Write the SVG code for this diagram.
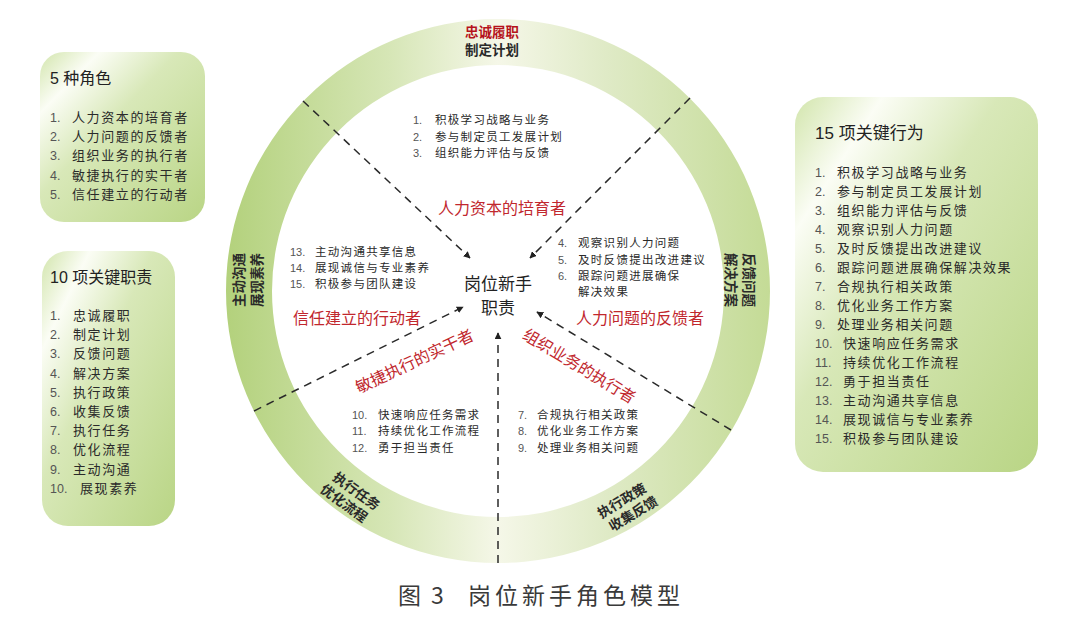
<svg xmlns="http://www.w3.org/2000/svg" width="1072" height="619" viewBox="0 0 1072 619">
<defs>
  <linearGradient id="ringG" gradientUnits="userSpaceOnUse" x1="226" y1="0" x2="770" y2="0">
    <stop offset="0" stop-color="#b3d17c"/>
    <stop offset="0.3" stop-color="#d6e6b6"/>
    <stop offset="0.5" stop-color="#f5f7e8"/>
    <stop offset="0.7" stop-color="#dfeac6"/>
    <stop offset="1" stop-color="#c4db96"/>
  </linearGradient>
  <linearGradient id="boxG" x1="0" y1="0" x2="1" y2="1">
    <stop offset="0" stop-color="#d2e5ac"/>
    <stop offset="0.18" stop-color="#fbfdf5"/>
    <stop offset="0.42" stop-color="#d8e8b8"/>
    <stop offset="1" stop-color="#b9d585"/>
  </linearGradient>
  <marker id="arr" viewBox="0 0 10 10" refX="9" refY="5" markerWidth="7" markerHeight="7" markerUnits="userSpaceOnUse" orient="auto">
    <path d="M0,0 L10,5 L0,10 z" fill="#222"/>
  </marker>
  <style>
    .cjk{font-family:"Noto Sans CJK SC",sans-serif;}
    .title{font-family:"Liberation Sans","Noto Sans CJK SC",sans-serif;font-size:16px;fill:#222;}
    .li{font-family:"Noto Sans CJK SC",sans-serif;font-size:13px;fill:#2a2a2a;letter-spacing:1.6px;}
    .num{font-family:"Liberation Sans",sans-serif;font-size:12.5px;fill:#555;}
    .cli{font-family:"Noto Sans CJK SC",sans-serif;font-size:11.5px;fill:#2a2a2a;letter-spacing:1.3px;}
    .cnum{font-family:"Liberation Sans",sans-serif;font-size:11px;fill:#555;}
    .red{font-family:"Noto Sans CJK SC",sans-serif;font-size:16px;fill:#c1272d;}
    .ring{font-family:"Noto Sans CJK SC",sans-serif;font-size:13.5px;font-weight:bold;fill:#2a2a2a;}
    .dash{stroke:#2a2a2a;stroke-width:1.5;stroke-dasharray:8 6;fill:none;}
    .box{fill:url(#boxG);}
  </style>
</defs>
<rect width="1072" height="619" fill="#ffffff"/>

<g id="ring">
  <path d="M226,291 a272,272 0 1,0 544,0 a272,272 0 1,0 -544,0 z M272,291 a226,226 0 1,1 452,0 a226,226 0 1,1 -452,0 z" fill="url(#ringG)" fill-rule="evenodd"/>
  <text class="ring" x="492" y="37" text-anchor="middle" style="fill:#b5121b">忠诚履职</text>
  <text class="ring" x="492" y="55" text-anchor="middle">制定计划</text>
  <g transform="translate(247,280) rotate(-90)">
    <text class="ring" x="0" y="-9" text-anchor="middle" dominant-baseline="central">主动沟通</text>
    <text class="ring" x="0" y="9" text-anchor="middle" dominant-baseline="central">展现素养</text>
  </g>
  <g transform="translate(741,280) rotate(90)">
    <text class="ring" x="0" y="-9" text-anchor="middle" dominant-baseline="central">反馈问题</text>
    <text class="ring" x="0" y="9" text-anchor="middle" dominant-baseline="central">解决方案</text>
  </g>
  <g transform="translate(350,495) rotate(36)">
    <text class="ring" x="3" y="-8" text-anchor="middle" dominant-baseline="central">执行任务</text>
    <text class="ring" x="0" y="9" text-anchor="middle" dominant-baseline="central">优化流程</text>
  </g>
  <g transform="translate(628,505) rotate(-31)">
    <text class="ring" x="-3" y="-8" text-anchor="middle" dominant-baseline="central">执行政策</text>
    <text class="ring" x="0" y="9" text-anchor="middle" dominant-baseline="central">收集反馈</text>
  </g>
</g>

<g id="connectors">
  <line class="dash" x1="303" y1="101" x2="470" y2="258" marker-end="url(#arr)"/>
  <line class="dash" x1="690" y1="98" x2="530" y2="258" marker-end="url(#arr)"/>
  <line class="dash" x1="254" y1="411" x2="463" y2="307" marker-end="url(#arr)"/>
  <line class="dash" x1="498" y1="563" x2="498" y2="333" marker-end="url(#arr)"/>
  <line class="dash" x1="731" y1="430" x2="537" y2="312" marker-end="url(#arr)"/>
</g>

<g id="center">
  <text class="cjk" x="498" y="290" text-anchor="middle" font-size="17" fill="#222">岗位新手</text>
  <text class="cjk" x="498" y="314" text-anchor="middle" font-size="17" fill="#222">职责</text>
</g>

<g id="seg-top">
  <text class="red" x="502" y="214" text-anchor="middle">人力资本的培育者</text>
  <text class="cnum" x="413" y="124">1.</text><text class="cli" x="435" y="124">积极学习战略与业务</text>
  <text class="cnum" x="413" y="141">2.</text><text class="cli" x="435" y="141">参与制定员工发展计划</text>
  <text class="cnum" x="413" y="157">3.</text><text class="cli" x="435" y="157">组织能力评估与反馈</text>
</g>

<g id="seg-right">
  <text class="red" x="640" y="324" text-anchor="middle">人力问题的反馈者</text>
  <text class="cnum" x="558" y="247">4.</text><text class="cli" x="578" y="247">观察识别人力问题</text>
  <text class="cnum" x="558" y="264">5.</text><text class="cli" x="578" y="264">及时反馈提出改进建议</text>
  <text class="cnum" x="558" y="280">6.</text><text class="cli" x="578" y="280">跟踪问题进展确保</text>
  <text class="cli" x="578" y="296">解决效果</text>
</g>

<g id="seg-bottom-right">
  <text class="red" transform="translate(580,365) rotate(31)" text-anchor="middle" dominant-baseline="central">组织业务的执行者</text>
  <text class="cnum" x="518" y="419">7.</text><text class="cli" x="537" y="419">合规执行相关政策</text>
  <text class="cnum" x="518" y="435">8.</text><text class="cli" x="537" y="435">优化业务工作方案</text>
  <text class="cnum" x="518" y="452">9.</text><text class="cli" x="537" y="452">处理业务相关问题</text>
</g>

<g id="seg-bottom-left">
  <text class="red" transform="translate(414,360) rotate(-25)" text-anchor="middle" dominant-baseline="central">敏捷执行的实干者</text>
  <text class="cnum" x="352" y="419">10.</text><text class="cli" x="378" y="419">快速响应任务需求</text>
  <text class="cnum" x="352" y="435">11.</text><text class="cli" x="378" y="435">持续优化工作流程</text>
  <text class="cnum" x="352" y="452">12.</text><text class="cli" x="378" y="452">勇于担当责任</text>
</g>

<g id="seg-left">
  <text class="red" x="357" y="324" text-anchor="middle">信任建立的行动者</text>
  <text class="cnum" x="290" y="256">13.</text><text class="cli" x="315" y="256">主动沟通共享信息</text>
  <text class="cnum" x="290" y="272">14.</text><text class="cli" x="315" y="272">展现诚信与专业素养</text>
  <text class="cnum" x="290" y="288">15.</text><text class="cli" x="315" y="288">积极参与团队建设</text>
</g>

<g id="box-roles">
  <rect class="box" x="40" y="52" width="165" height="170" rx="24"/>
  <text class="title" x="50" y="84">5 种角色</text>
  <text class="num" x="50" y="122">1.</text><text class="li" x="72" y="122">人力资本的培育者</text>
  <text class="num" x="50" y="141">2.</text><text class="li" x="72" y="141">人力问题的反馈者</text>
  <text class="num" x="50" y="160">3.</text><text class="li" x="72" y="160">组织业务的执行者</text>
  <text class="num" x="50" y="180">4.</text><text class="li" x="72" y="180">敏捷执行的实干者</text>
  <text class="num" x="50" y="199">5.</text><text class="li" x="72" y="199">信任建立的行动者</text>
</g>

<g id="box-duties">
  <rect class="box" x="42" y="251" width="133" height="275" rx="26"/>
  <text class="title" x="50" y="283">10 项关键职责</text>
  <text class="num" x="50" y="320">1.</text><text class="li" x="73" y="320">忠诚履职</text>
  <text class="num" x="50" y="339">2.</text><text class="li" x="73" y="339">制定计划</text>
  <text class="num" x="50" y="358">3.</text><text class="li" x="73" y="358">反馈问题</text>
  <text class="num" x="50" y="378">4.</text><text class="li" x="73" y="378">解决方案</text>
  <text class="num" x="50" y="397">5.</text><text class="li" x="73" y="397">执行政策</text>
  <text class="num" x="50" y="416">6.</text><text class="li" x="73" y="416">收集反馈</text>
  <text class="num" x="50" y="435">7.</text><text class="li" x="73" y="435">执行任务</text>
  <text class="num" x="50" y="454">8.</text><text class="li" x="73" y="454">优化流程</text>
  <text class="num" x="50" y="474">9.</text><text class="li" x="73" y="474">主动沟通</text>
  <text class="num" x="50" y="493">10.</text><text class="li" x="80" y="493">展现素养</text>
</g>

<g id="box-behaviors">
  <rect class="box" x="795" y="97" width="243" height="375" rx="28"/>
  <text class="title" x="815" y="139" style="font-size:17px">15 项关键行为</text>
  <text class="num" x="815" y="177">1.</text><text class="li" x="837" y="177">积极学习战略与业务</text>
  <text class="num" x="815" y="196">2.</text><text class="li" x="837" y="196">参与制定员工发展计划</text>
  <text class="num" x="815" y="215">3.</text><text class="li" x="837" y="215">组织能力评估与反馈</text>
  <text class="num" x="815" y="234">4.</text><text class="li" x="837" y="234">观察识别人力问题</text>
  <text class="num" x="815" y="253">5.</text><text class="li" x="837" y="253">及时反馈提出改进建议</text>
  <text class="num" x="815" y="272">6.</text><text class="li" x="837" y="272">跟踪问题进展确保解决效果</text>
  <text class="num" x="815" y="291">7.</text><text class="li" x="837" y="291">合规执行相关政策</text>
  <text class="num" x="815" y="310">8.</text><text class="li" x="837" y="310">优化业务工作方案</text>
  <text class="num" x="815" y="329">9.</text><text class="li" x="837" y="329">处理业务相关问题</text>
  <text class="num" x="815" y="348">10.</text><text class="li" x="843" y="348">快速响应任务需求</text>
  <text class="num" x="815" y="367">11.</text><text class="li" x="843" y="367">持续优化工作流程</text>
  <text class="num" x="815" y="386">12.</text><text class="li" x="843" y="386">勇于担当责任</text>
  <text class="num" x="815" y="405">13.</text><text class="li" x="843" y="405">主动沟通共享信息</text>
  <text class="num" x="815" y="424">14.</text><text class="li" x="843" y="424">展现诚信与专业素养</text>
  <text class="num" x="815" y="443">15.</text><text class="li" x="843" y="443">积极参与团队建设</text>
</g>

<g id="caption">
  <text class="cjk" x="398" y="604" font-size="23" fill="#3a3a3a">图<tspan x="431">3</tspan></text>
  <text class="cjk" x="468" y="604" font-size="23" fill="#3a3a3a" letter-spacing="4">岗位新手角色模型</text>
</g>
</svg>
